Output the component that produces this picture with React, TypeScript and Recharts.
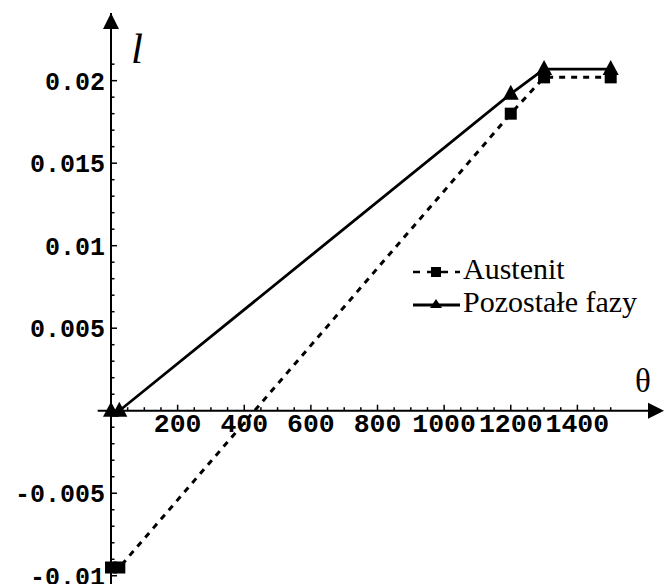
import React from 'react'
import { LineChart, Line, XAxis, YAxis, ReferenceLine, ReferenceDot, Legend } from 'recharts'

// temperatura (θ) i odkształcenie (l) dla obu faz
const theta = [0, 25, 1200, 1300, 1500]
const austenit = [-0.0095, -0.0095, 0.018, 0.0202, 0.0202]
const pozostale = [0, 0, 0.0192, 0.0207, 0.0207]

const xMajor = [200, 400, 600, 800, 1000, 1200, 1400]
const xTickLabels = ['200', '400', '600', '800', '1000', '1200', '1400']
const yMajor = [-0.01, -0.005, 0.005, 0.01, 0.015, 0.02]
const yTickLabels = ['-0.01', '-0.005', '0.005', '0.01', '0.015', '0.02']

const X_MAX = 1660
const Y_MIN = -0.0105
const Y_MAX = 0.0241

const xMinor: number[] = []
for (let v = 50; v <= 1500; v += 50) if (v % 200 !== 0) xMinor.push(v)
const yTicks: number[] = []
for (let i = -10; i <= 21; i++) if (i !== 0) yTicks.push(i / 1000)

const data = theta.map((t, i) => ({ theta: t, austenit: austenit[i], pozostale: pozostale[i] }))

const monoFont = '"Liberation Mono", "Courier New", monospace'
const serifFont = '"Liberation Serif", "Times New Roman", serif'

function YTick({ x, y, payload }: any) {
  const k = Math.round(payload.value * 1000)
  const major = k % 5 === 0
  const idx = yMajor.findIndex(m => Math.round(m * 1000) === k)
  return (
    <g>
      <line x1={x} x2={x + (major ? 6 : 3.5)} y1={y} y2={y} stroke="#000" strokeWidth={1.5} />
      {idx >= 0 && (
        <text x={x - 6} y={y} dy="0.36em" textAnchor="end" fontFamily={monoFont}
          fontWeight="bold" fontSize={25} fill="#000">
          {yTickLabels[idx]}
        </text>
      )}
    </g>
  )
}

const xTickShape = (label?: string) => (props: any) => {
  const { cx, cy } = props
  return (
    <g>
      <line x1={cx} x2={cx} y1={cy} y2={cy - (label ? 6 : 3.5)} stroke="#000" strokeWidth={1.5} />
      {label && (
        <text x={cx} y={cy + 21} textAnchor="middle" fontFamily={monoFont}
          fontWeight="bold" fontSize={26.5} fill="#000">
          {label}
        </text>
      )}
    </g>
  )
}

const YArrow = (props: any) => {
  const { cx, cy } = props
  return (
    <g>
      <polygon points={`${cx},${cy} ${cx - 8},${cy + 16} ${cx + 8},${cy + 16}`} fill="#000" />
      <text x={cx + 20} y={cy + 50} fontFamily={serifFont} fontStyle="italic" fontSize={43} fill="#000">l</text>
    </g>
  )
}

const XArrow = (props: any) => {
  const { cx, cy } = props
  return (
    <g>
      <polygon points={`${cx},${cy} ${cx - 16},${cy - 8} ${cx - 16},${cy + 8}`} fill="#000" />
      <text x={cx - 29} y={cy - 19} fontFamily={serifFont} fontSize={33} fill="#000">θ</text>
    </g>
  )
}

const SquareDot = (props: any) => {
  const { cx, cy, index } = props
  return <rect key={`s${index}`} x={cx - 6} y={cy - 6} width={12} height={12} fill="#000" />
}

const TriangleDot = (props: any) => {
  const { cx, cy, index } = props
  return (
    <polygon key={`t${index}`}
      points={`${cx},${cy - 9} ${cx - 8},${cy + 6} ${cx + 8},${cy + 6}`} fill="#000" />
  )
}

function LegendContent({ payload }: any) {
  const items = payload || []
  return (
    <svg width={260} height={78}>
      {items.map((item: any, i: number) => {
        const cy = 22 + i * 33
        const dashed = item.dataKey === 'austenit'
        return (
          <g key={item.value}>
            <line x1={5} x2={52} y1={cy} y2={cy} stroke="#000" strokeWidth={dashed ? 2.5 : 3}
              strokeDasharray={dashed ? '7 7' : undefined} />
            {dashed
              ? <rect x={23} y={cy - 5} width={10} height={10} fill="#000" />
              : <polygon points={`28,${cy - 6} 22,${cy + 3} 34,${cy + 3}`} fill="#000" />}
            <text x={55} y={cy + 7} fontFamily={serifFont} fontSize={30} fill="#000">{item.value}</text>
          </g>
        )
      })}
    </svg>
  )
}

export default function App() {
  return (
    <div style={{ position: 'absolute', left: 0, top: 0, background: '#fff' }}>
      <LineChart width={665} height={584} data={data}
        margin={{ top: 13, right: 1, bottom: 0, left: 51 }}>
        <XAxis type="number" dataKey="theta" domain={[0, X_MAX]} hide />
        <YAxis type="number" domain={[Y_MIN, Y_MAX]} width={60} ticks={yTicks} interval={0}
          tickSize={0} tickMargin={0} tick={<YTick />}
          axisLine={{ stroke: '#000', strokeWidth: 2 }} allowDataOverflow />
        <ReferenceLine segment={[{ x: -40, y: 0 }, { x: X_MAX - 10, y: 0 }]} ifOverflow="visible"
          stroke="#000" strokeWidth={2} />
        {xMinor.map(v => (
          <ReferenceDot key={`m${v}`} x={v} y={0} ifOverflow="visible" shape={xTickShape()} />
        ))}
        {xMajor.map((v, i) => (
          <ReferenceDot key={`M${v}`} x={v} y={0} ifOverflow="visible" shape={xTickShape(xTickLabels[i])} />
        ))}
        <ReferenceDot x={0} y={Y_MAX} ifOverflow="visible" shape={YArrow} />
        <ReferenceDot x={X_MAX} y={0} ifOverflow="visible" shape={XArrow} />
        <Line name="Austenit" dataKey="austenit" type="linear" stroke="#000" strokeWidth={3}
          strokeDasharray="6 6" dot={SquareDot} activeDot={false} isAnimationActive={false} />
        <Line name="Pozostałe fazy" dataKey="pozostale" type="linear" stroke="#000" strokeWidth={2.8}
          dot={TriangleDot} activeDot={false} isAnimationActive={false} />
        <Legend layout="vertical" align="center" verticalAlign="middle" content={<LegendContent />}
          wrapperStyle={{ left: 408, top: 250, width: 260 }} />
      </LineChart>
    </div>
  )
}
